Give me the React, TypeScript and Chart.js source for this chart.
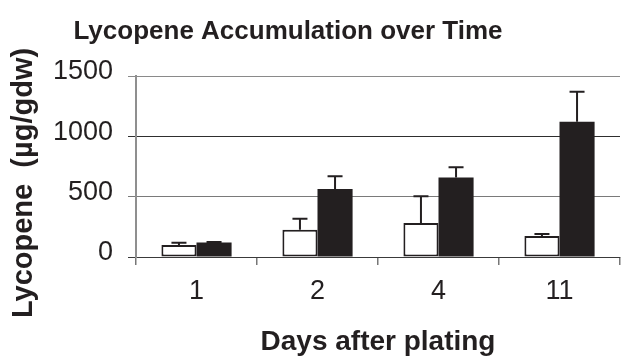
import React, { useEffect, useRef } from "react";
import { Chart, registerables } from "chart.js";

Chart.register(...registerables);

const chartTitle = "Lycopene Accumulation over Time";
const yTitle = "Lycopene  (µg/gdw)";
const xTitle = "Days after plating";
const categories = ["1", "2", "4", "11"];
const seriesNames = ["Series A", "Series B"];
const whiteValues = [99, 226, 281, 174];
const whiteErrors = [19, 91, 223, 17];
const blackValues = [121, 564, 658, 1120];
const blackErrors = [3, 105, 86, 250];
const yTicks = [0, 500, 1000, 1500];

const INK = "#231f20";
const FONT = '"Liberation Sans", Arial, sans-serif';

const errorBarPlugin = {
  id: "errorBars",
  afterDatasetsDraw(chart: any) {
    const ctx = chart.ctx;
    const yScale = chart.scales.y;
    const errs = [whiteErrors, blackErrors];
    ctx.save();
    ctx.strokeStyle = INK;
    ctx.lineWidth = 2;
    chart.data.datasets.forEach((ds: any, di: number) => {
      const meta = chart.getDatasetMeta(di);
      meta.data.forEach((bar: any, i: number) => {
        const v = ds.data[i];
        const e = errs[di][i];
        const yTop = yScale.getPixelForValue(v + e);
        const yBar = yScale.getPixelForValue(v);
        ctx.beginPath();
        ctx.moveTo(bar.x, yBar);
        ctx.lineTo(bar.x, yTop);
        ctx.moveTo(bar.x - 7.5, yTop);
        ctx.lineTo(bar.x + 7.5, yTop);
        ctx.stroke();
      });
    });
    ctx.restore();
  },
};

const textPlugin = {
  id: "texts",
  afterDraw(chart: any) {
    const ctx = chart.ctx;
    ctx.save();
    ctx.fillStyle = INK;
    ctx.font = `bold 26px ${FONT}`;
    ctx.textAlign = "center";
    ctx.textBaseline = "alphabetic";
    ctx.fillText(chartTitle, 288, 39);
    ctx.translate(24, 183);
    ctx.rotate(-Math.PI / 2);
    ctx.font = `bold 29px ${FONT}`;
    ctx.textBaseline = "middle";
    ctx.fillText(yTitle, 0, 0);
    ctx.restore();
  },
};

const gridColors: Record<number, string> = {
  0: "#3a3a3a",
  500: "#7a7a7a",
  1000: "#2e2e2e",
  1500: "#8a8a8a",
};

export default function App() {
  const ref = useRef<HTMLCanvasElement | null>(null);
  useEffect(() => {
    if (!ref.current) return;
    const chart = new Chart(ref.current, {
      type: "bar",
      data: {
        labels: categories,
        datasets: [
          {
            label: seriesNames[0],
            data: whiteValues,
            backgroundColor: "#ffffff",
            borderColor: INK,
            borderWidth: 2,
            borderSkipped: false,
          },
          {
            label: seriesNames[1],
            data: blackValues,
            backgroundColor: INK,
            borderColor: INK,
            borderWidth: 0,
          },
        ],
      },
      options: {
        animation: false,
        responsive: true,
        maintainAspectRatio: false,
        layout: { padding: { top: 76, right: 1, left: 0, bottom: 0 } },
        plugins: {
          legend: { display: false },
          title: { display: false },
          tooltip: { enabled: false },
        },
        datasets: {
          bar: { categoryPercentage: 0.58, barPercentage: 1.0 },
        },
        scales: {
          x: {
            offset: true,
            grid: {
              offset: true,
              drawOnChartArea: false,
              drawTicks: true,
              tickLength: 8,
              color: "#777",
              lineWidth: 1.5,
            },
            border: { display: true, color: "#3a3a3a", width: 1 },
            ticks: {
              color: INK,
              font: { family: FONT, size: 27 },
              padding: 10,
            },
            title: {
              display: true,
              text: xTitle,
              color: INK,
              font: { family: FONT, size: 28, weight: "bold" },
              padding: { top: 0, bottom: 0 },
            },
            afterFit(scale: any) {
              scale.height = 102;
            },
          },
          y: {
            min: 0,
            max: 1500,
            afterBuildTicks(scale: any) {
              scale.ticks = yTicks.map((v) => ({ value: v }));
            },
            grid: {
              drawTicks: true,
              tickLength: 8,
              color: (c: any) => gridColors[c.tick?.value] ?? "#777",
              lineWidth: 1,
            },
            border: { display: true, color: "#8f8f8f", width: 2 },
            ticks: {
              color: INK,
              font: { family: FONT, size: 27 },
              padding: 15,
              labelOffset: -4,
              callback: (v: any) => String(v),
            },
            afterFit(scale: any) {
              scale.width = 136;
            },
          },
        },
      },
      plugins: [errorBarPlugin, textPlugin],
    });
    return () => chart.destroy();
  }, []);
  return (
    <div style={{ position: "fixed", left: 0, top: 0, width: 621, height: 359, background: "#fff" }}>
      <canvas ref={ref} />
    </div>
  );
}
